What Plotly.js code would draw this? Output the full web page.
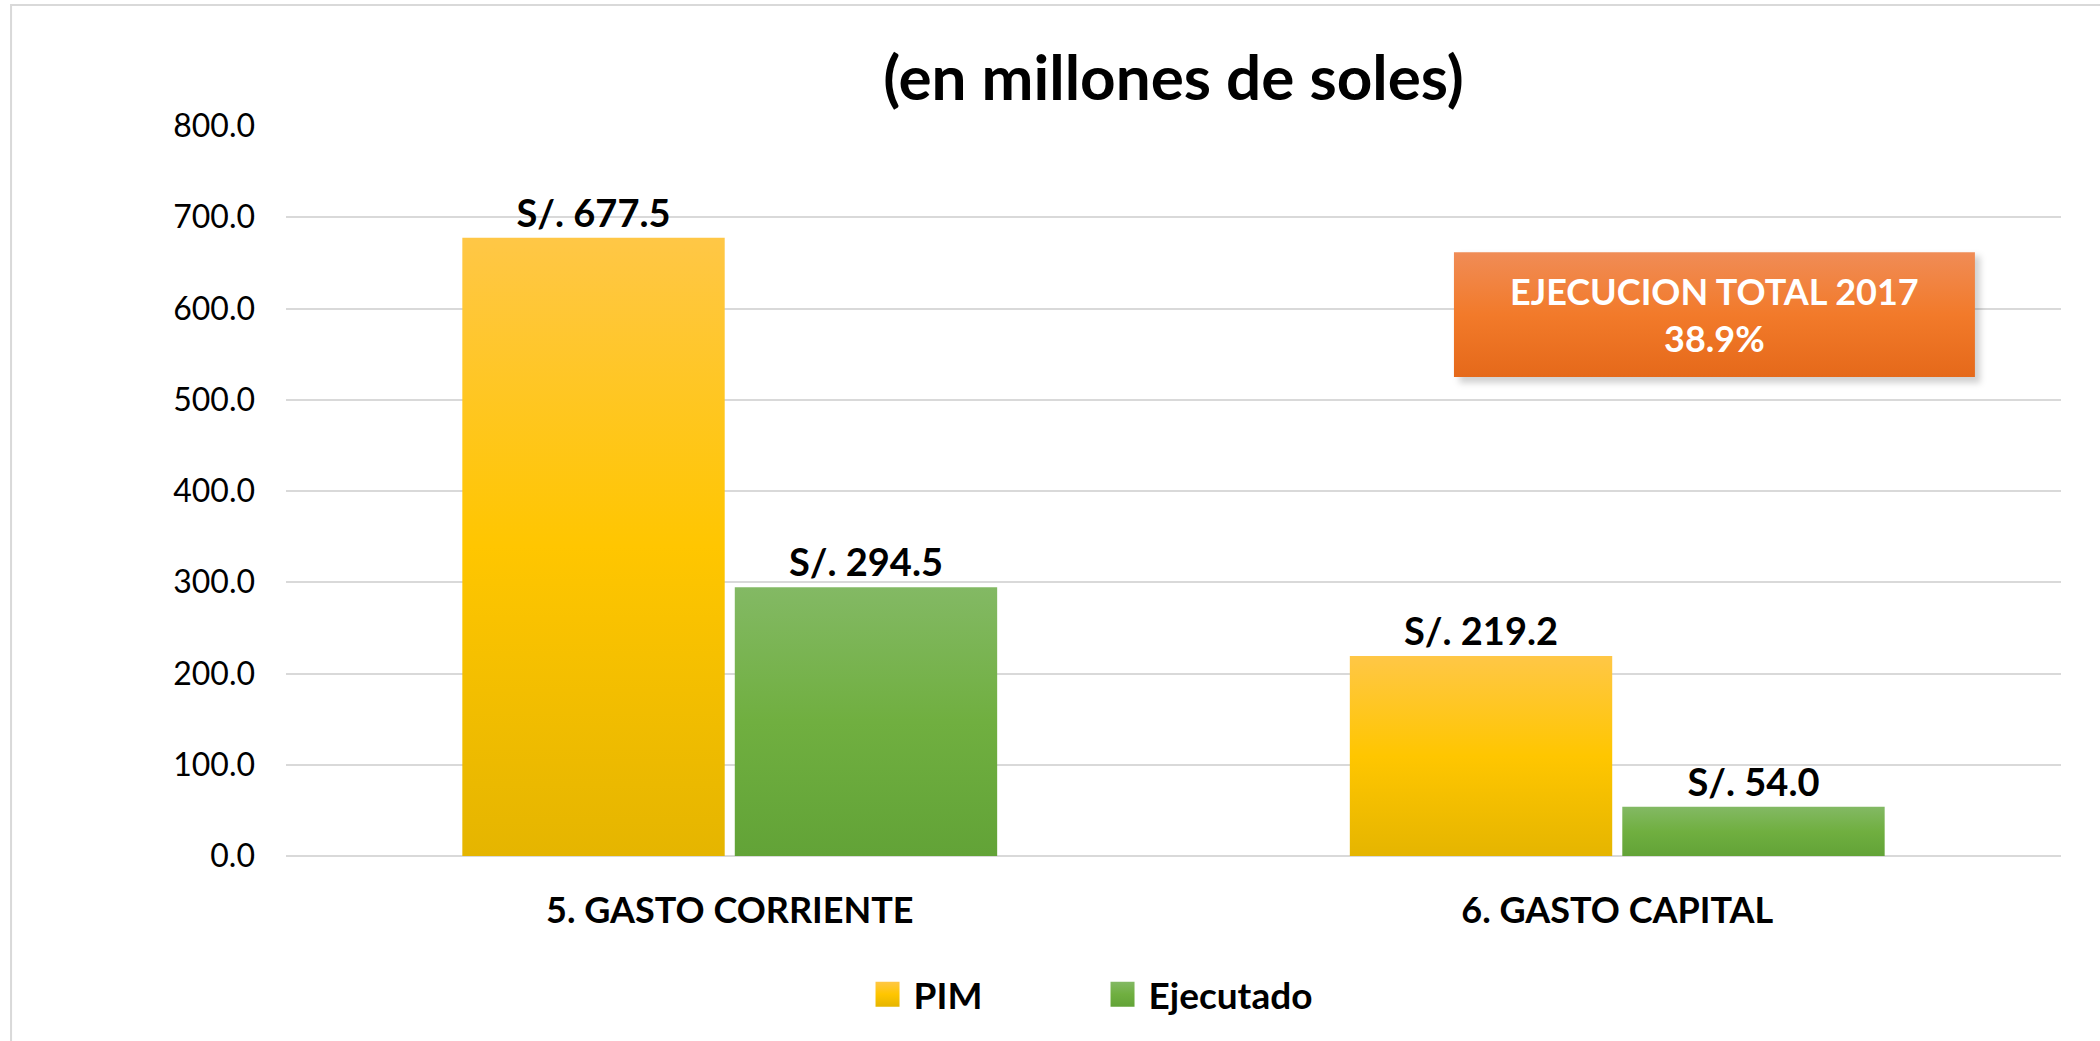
<!DOCTYPE html>
<html>
<head>
<meta charset="utf-8">
<script src="https://cdn.plot.ly/plotly-3.0.1.min.js"></script>
<style>
html,body{margin:0;padding:0;background:#fff;}
#chart{width:2100px;height:1041px;}
</style>
</head>
<body>
<div id="chart"></div>
<script>
const categories = ["5. GASTO CORRIENTE", "6. GASTO CAPITAL"];
const pimValues = [677.5, 219.2];
const ejecutadoValues = [294.5, 54.0];
const seriesNames = ["PIM", "Ejecutado"];
const titleText = "(en millones de soles)";
const boxLines = ["EJECUCION TOTAL 2017", "38.9%"];

const FONT = "Lato, 'Open Sans', sans-serif";

const traces = [
  {
    type: "bar", name: seriesNames[0], x: categories, y: pimValues,
    marker: {color: "#FFC000", line: {width: 0}},
    texttemplate: "S/. %{y:.1f}", textposition: "outside", cliponaxis: false,
    textfont: {family: FONT, size: 38, color: "#000", weight: "bold"},
    hoverinfo: "none"
  },
  {
    type: "bar", name: seriesNames[1], x: categories, y: ejecutadoValues,
    marker: {color: "#70AD47", line: {width: 0}},
    texttemplate: "S/. %{y:.1f}", textposition: "outside", cliponaxis: false,
    textfont: {family: FONT, size: 38, color: "#000", weight: "bold"},
    hoverinfo: "none"
  }
];

const layout = {
  width: 2100, height: 1041,
  margin: {l: 286, r: 39, t: 126, b: 185, pad: 0},
  paper_bgcolor: "#fff", plot_bgcolor: "#fff",
  font: {family: FONT, color: "#000"},
  barmode: "group", bargap: 0.386, bargroupgap: 0.037,
  title: {
    text: titleText, font: {family: FONT, size: 62, weight: "bold", color: "#000"},
    x: 0.5, xref: "paper", xanchor: "center", y: 0.925, yref: "container", yanchor: "middle"
  },
  xaxis: {
    type: "category", showgrid: false, showline: false, ticks: "",
    tickfont: {family: FONT, size: 36, weight: "bold", color: "#000"},
    ticklabelstandoff: 30, fixedrange: true
  },
  yaxis: {
    range: [0, 800], dtick: 100, tick0: 0, tickformat: ".1f",
    showgrid: true, gridcolor: "#D9D9D9", gridwidth: 2,
    zeroline: true, zerolinecolor: "#D9D9D9", zerolinewidth: 2,
    showline: false, ticks: "",
    tickfont: {family: FONT, size: 32, color: "#000"},
    ticklabelstandoff: 30, fixedrange: true
  },
  showlegend: true,
  legend: {
    orientation: "h", x: 0.331, xanchor: "left", y: -0.19, yanchor: "middle",
    font: {family: FONT, size: 37, weight: "bold", color: "#000"},
    entrywidth: 190, entrywidthmode: "pixels", bgcolor: "rgba(0,0,0,0)", traceorder: "normal"
  },
  shapes: [
    {type: "rect", xref: "paper", yref: "paper", x0: -0.1549, x1: 1.2, y0: -1.5, y1: 1.1658,
     line: {color: "#D9D9D9", width: 2}, fillcolor: "rgba(0,0,0,0)", layer: "below"},
    {type: "rect", xref: "paper", yref: "paper", x0: 0.661, x1: 0.9545, y0: 0.648, y1: 0.822,
     line: {width: 0}, fillcolor: "rgba(0,0,0,0.18)", layer: "above"},
    {type: "rect", xref: "paper", yref: "paper", x0: 0.658, x1: 0.9515, y0: 0.656, y1: 0.827,
     line: {width: 0}, fillcolor: "#EE7A2E", layer: "above"}
  ],
  annotations: [
    {xref: "paper", yref: "paper", x: 0.8048, y: 0.7415, xanchor: "center", yanchor: "middle",
     text: boxLines.join("<br>"), showarrow: false, align: "center",
     font: {family: FONT, size: 36, weight: "bold", color: "#fff"}}
  ]
};

Plotly.newPlot("chart", traces, layout, {displayModeBar: false, staticPlot: true}).then(function(gd) {
  const svgNS = "http://www.w3.org/2000/svg";
  const svg = gd.querySelector(".main-svg");
  let defs = svg.querySelector("defs");
  if (!defs) { defs = document.createElementNS(svgNS, "defs"); svg.insertBefore(defs, svg.firstChild); }
  function addGrad(id, stops) {
    const g = document.createElementNS(svgNS, "linearGradient");
    g.setAttribute("id", id);
    g.setAttribute("x1", "0"); g.setAttribute("y1", "0");
    g.setAttribute("x2", "0"); g.setAttribute("y2", "1");
    stops.forEach(function(s) {
      const st = document.createElementNS(svgNS, "stop");
      st.setAttribute("offset", s[0]);
      st.setAttribute("stop-color", s[1]);
      g.appendChild(st);
    });
    defs.appendChild(g);
  }
  addGrad("gradPIM", [["0", "#FFC746"], ["0.5", "#FFC600"], ["1", "#E5B500"]]);
  addGrad("gradEje", [["0", "#83B964"], ["0.5", "#70AF40"], ["1", "#62A337"]]);
  addGrad("gradBox", [["0", "#F08C56"], ["0.5", "#F27A2A"], ["1", "#E5691A"]]);
  const gradIds = ["gradPIM", "gradEje"];
  const barTraces = gd.querySelectorAll(".barlayer .trace");
  barTraces.forEach(function(t, i) {
    t.querySelectorAll(".point path").forEach(function(p) {
      p.style.fill = "url(#" + gradIds[i] + ")";
    });
  });
  gd.querySelectorAll(".legend [clip-path]").forEach(function(el) {
    el.removeAttribute("clip-path");
  });
  const legendItems = gd.querySelectorAll(".legend .traces");
  legendItems.forEach(function(t, i) {
    t.querySelectorAll(".legendpoints path").forEach(function(p) {
      p.setAttribute("d", "M26,12.5H2V-12.5H26Z");
      p.removeAttribute("transform");
      p.style.fill = "url(#" + gradIds[i] + ")";
      p.style.stroke = "none";
    });
  });
  const shapePaths = gd.querySelectorAll(".layer-above .shapelayer path");
  shapePaths.forEach(function(p) {
    if (p.getAttribute("data-index") === "2") p.style.fill = "url(#gradBox)";
    if (p.getAttribute("data-index") === "1") p.style.filter = "blur(3px)";
  });
});
</script>
</body>
</html>
